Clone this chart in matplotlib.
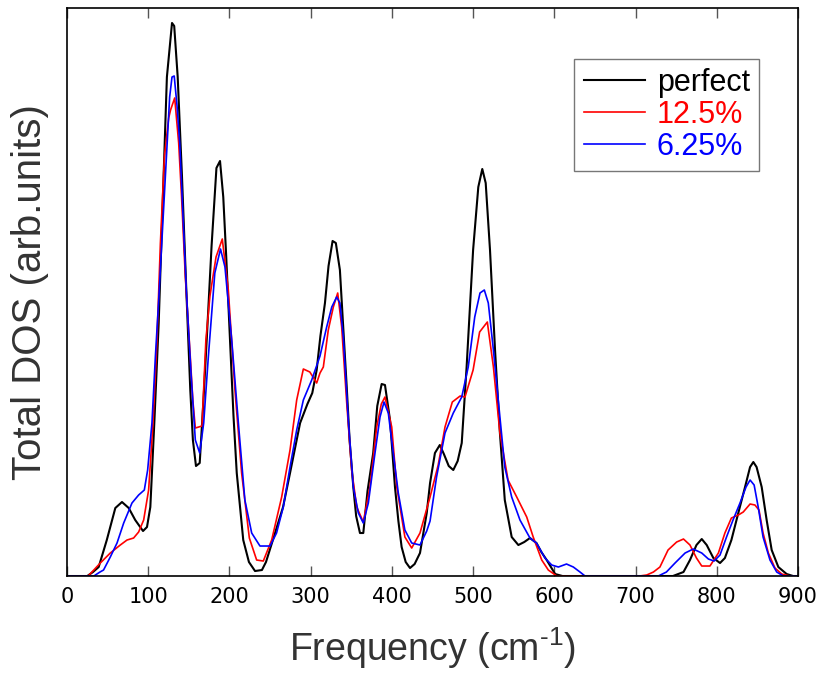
import matplotlib
matplotlib.use('Agg')
import matplotlib.pyplot as plt

perfect_f = [0, 25, 32, 39, 49, 59.5, 67.7, 76, 84, 93.6, 98.5, 102.6, 107.5, 112.9, 123, 129.3, 132,
             136.3, 141.6, 146.9, 151.8, 155, 158.8, 163.4, 168.3, 172, 178, 184, 188.4, 192.4, 196,
             200.7, 205, 209, 217, 224, 231.5, 240, 245, 255, 266, 274.6, 287, 296, 302, 307.4, 312,
             317.6, 322, 327, 331, 336, 340, 344.4, 348, 352.5, 356, 360.7, 364.8, 370, 377, 382,
             387.4, 391.5, 397.7, 403.8, 408, 412, 417, 422.3, 428, 434.6, 442.9, 447, 453, 459, 464,
             470, 475.6, 481, 486, 492, 500, 506.4, 511.3, 515.5, 520.8, 527, 533, 539, 547.5, 555.7,
             563, 570, 578, 584, 590.6, 601, 610, 746, 759, 767, 775, 781.5, 787.6, 795.8, 804, 810,
             818, 826.5, 834.8, 841, 845, 849, 855.3, 861.4, 867.6, 875.8, 886, 894, 900]
perfect_y = [0, 0, 4, 9, 36, 68, 74, 68, 56, 45, 49, 69, 153, 253, 499, 553, 550,
             499, 399, 286, 186, 136, 110, 113, 180, 236, 330, 408, 415, 379, 320,
             236, 160, 103, 36, 14, 5, 6, 14, 40, 69, 103, 153, 172, 183, 206, 240,
             273, 310, 335, 333, 306, 250, 189, 135, 89, 60, 43, 43, 85, 123, 170,
             192, 191, 156, 89, 55, 29, 14, 8, 12, 23, 63, 93, 123, 131, 122,
             110, 106, 115, 133, 209, 326, 389, 407, 393, 326, 226, 143, 76, 39, 31,
             34, 38, 33, 24, 16, 2, 0, 0, 4, 16, 31, 37, 31, 18, 13, 18,
             36, 63, 89, 109, 114, 109, 89, 56, 26, 9, 2, 0, 0]

c125_f = [0, 26, 33, 41, 53.3, 65.6, 73.9, 82, 88.2, 94.4, 100.5, 105.9, 110.8, 115, 120, 125.2, 127.5,
          132.6, 137.5, 141, 145.7, 151.8, 155, 158, 166.2, 171, 176, 183.5, 191.2, 198.6, 206.8, 215,
          224.5, 233.5, 241.7, 252, 264.3, 274.6, 282.8, 291, 299, 307.4, 311.5, 315.6, 321.7, 327.9,
          333.3, 338.2, 344.4, 350.5, 356.7, 364.8, 373, 381.3, 387, 391.5, 399.8, 406, 416, 424.4,
          434.6, 447, 457, 465.4, 474.4, 484, 490, 500, 508, 517.5, 525, 533, 543, 553.7, 566, 574,
          584.5, 592.6, 603, 705, 713.7, 722, 730, 740, 750.6, 759, 767, 775, 781.5, 791.6, 802, 810,
          818, 826.5, 832.6, 841, 847, 852, 857, 863.5, 871.6, 880, 890, 900]
c125_y = [0, 0, 6, 13, 23, 31, 36, 38, 44, 56, 86, 153, 236, 333, 420, 458, 466,
          478, 433, 380, 299, 219, 175, 148, 150, 236, 280, 319, 337, 286, 186, 103,
          38, 16, 15, 36, 79, 126, 176, 207, 204, 193, 203, 209, 246, 269,
          283, 249, 173, 106, 69, 54, 89, 149, 172, 179, 149, 89, 39, 28,
          43, 79, 111, 149, 174, 180, 179, 206, 244, 254, 209, 143, 96, 79, 59, 39,
          16, 6, 0, 0, 1, 4, 9, 26, 34, 37, 31, 18, 10, 10, 23, 43,
          58, 61, 64, 72, 71, 66, 43, 23, 8, 2, 0, 0]

c625_f = [0, 33, 40.6, 45, 53.3, 61.6, 69.8, 80, 88.2, 95.2, 99.3, 104.6, 108.8, 112.9, 126.4, 129.3, 132,
          135.5, 138.8, 146.9, 152.7, 158, 163.4, 168.3, 174, 182, 189, 194.5, 202.8, 211, 219, 227.4,
          237.6, 250, 258, 266.3, 274.6, 282.8, 291, 301.3, 311.5, 319.7, 326, 332, 336, 340.2, 346.3,
          352.5, 358.7, 364.8, 371, 379.2, 385.4, 390.3, 395.6, 401.7, 407.9, 416, 424.4, 434.6, 442.9,
          447, 455, 465.4, 475.6, 486, 494, 502, 508.5, 513.8, 518.7, 525, 533, 539, 547.5, 557.7, 570,
          578, 588.5, 596.8, 605, 615, 623.4, 631.6, 637.8, 728, 738, 748.6, 761, 771, 781.5, 789.7,
          796.7, 804, 812, 820, 828.6, 836, 841, 846, 851, 857, 865.5, 873.8, 882, 900]
c625_y = [0, 0, 4, 6, 19, 33, 53, 73, 81, 86, 106, 153, 219, 276, 479, 499, 500,
          470, 433, 286, 203, 136, 123, 153, 219, 303, 327, 309, 236, 153, 76, 43,
          30, 30, 43, 69, 109, 146, 176, 196, 220, 249, 269, 279, 273, 239, 156,
          89, 63, 53, 73, 123, 159, 174, 163, 123, 83, 46, 33, 31, 45,
          55, 99, 143, 163, 179, 209, 259, 283, 286, 273, 226, 159, 109, 79, 56, 38,
          33, 18, 11, 9, 12, 9, 4, 0, 0, 4, 13, 23, 27, 23, 17,
          15, 21, 39, 56, 73, 89, 96, 91, 69, 39, 16, 4, 0, 0]

xticks = [0, 100, 200, 300, 400, 500, 600, 700, 800, 900]

plt.rcParams['mathtext.fontset'] = 'custom'
plt.rcParams['mathtext.rm'] = 'Liberation Sans'

fig = plt.figure(figsize=(8.22, 6.73), dpi=100)
ax = fig.add_axes([0.0815, 0.1441, 0.8893, 0.8433])

ax.plot(perfect_f, perfect_y, color='black', lw=1.5, label='perfect')
ax.plot(c125_f, c125_y, color='red', lw=1.2, label='12.5%')
ax.plot(c625_f, c625_y, color='blue', lw=1.2, label='6.25%')

ax.set_xlim(0, 900)
ax.set_ylim(0, 567.5)
ax.set_xticks(xticks)
ax.set_yticks([])
ax.tick_params(axis='x', direction='in', top=True, length=7, width=1, color='#555555',
               labelsize=15, pad=8)
for s in ax.spines.values():
    s.set_linewidth(1.2)

lab_font = dict(family='Liberation Sans', color='#333333')
ax.set_xlabel(r'Frequency (cm$^{\text{-1}}$)', labelpad=13, size=27, **lab_font)
ax.set_ylabel('Total DOS (arb.units)', labelpad=13, size=29, **lab_font)

leg = ax.legend(loc='upper right', bbox_to_anchor=(0.947, 0.911), fancybox=False,
                prop={'family': 'Liberation Sans', 'size': 22}, labelcolor='linecolor',
                handlelength=2.0, handletextpad=0.4, labelspacing=0.06, borderpad=0.3,
                borderaxespad=0)
leg.get_frame().set_edgecolor('#555555')
leg.get_frame().set_linewidth(1.0)

fig.savefig('out.png', dpi=100)
